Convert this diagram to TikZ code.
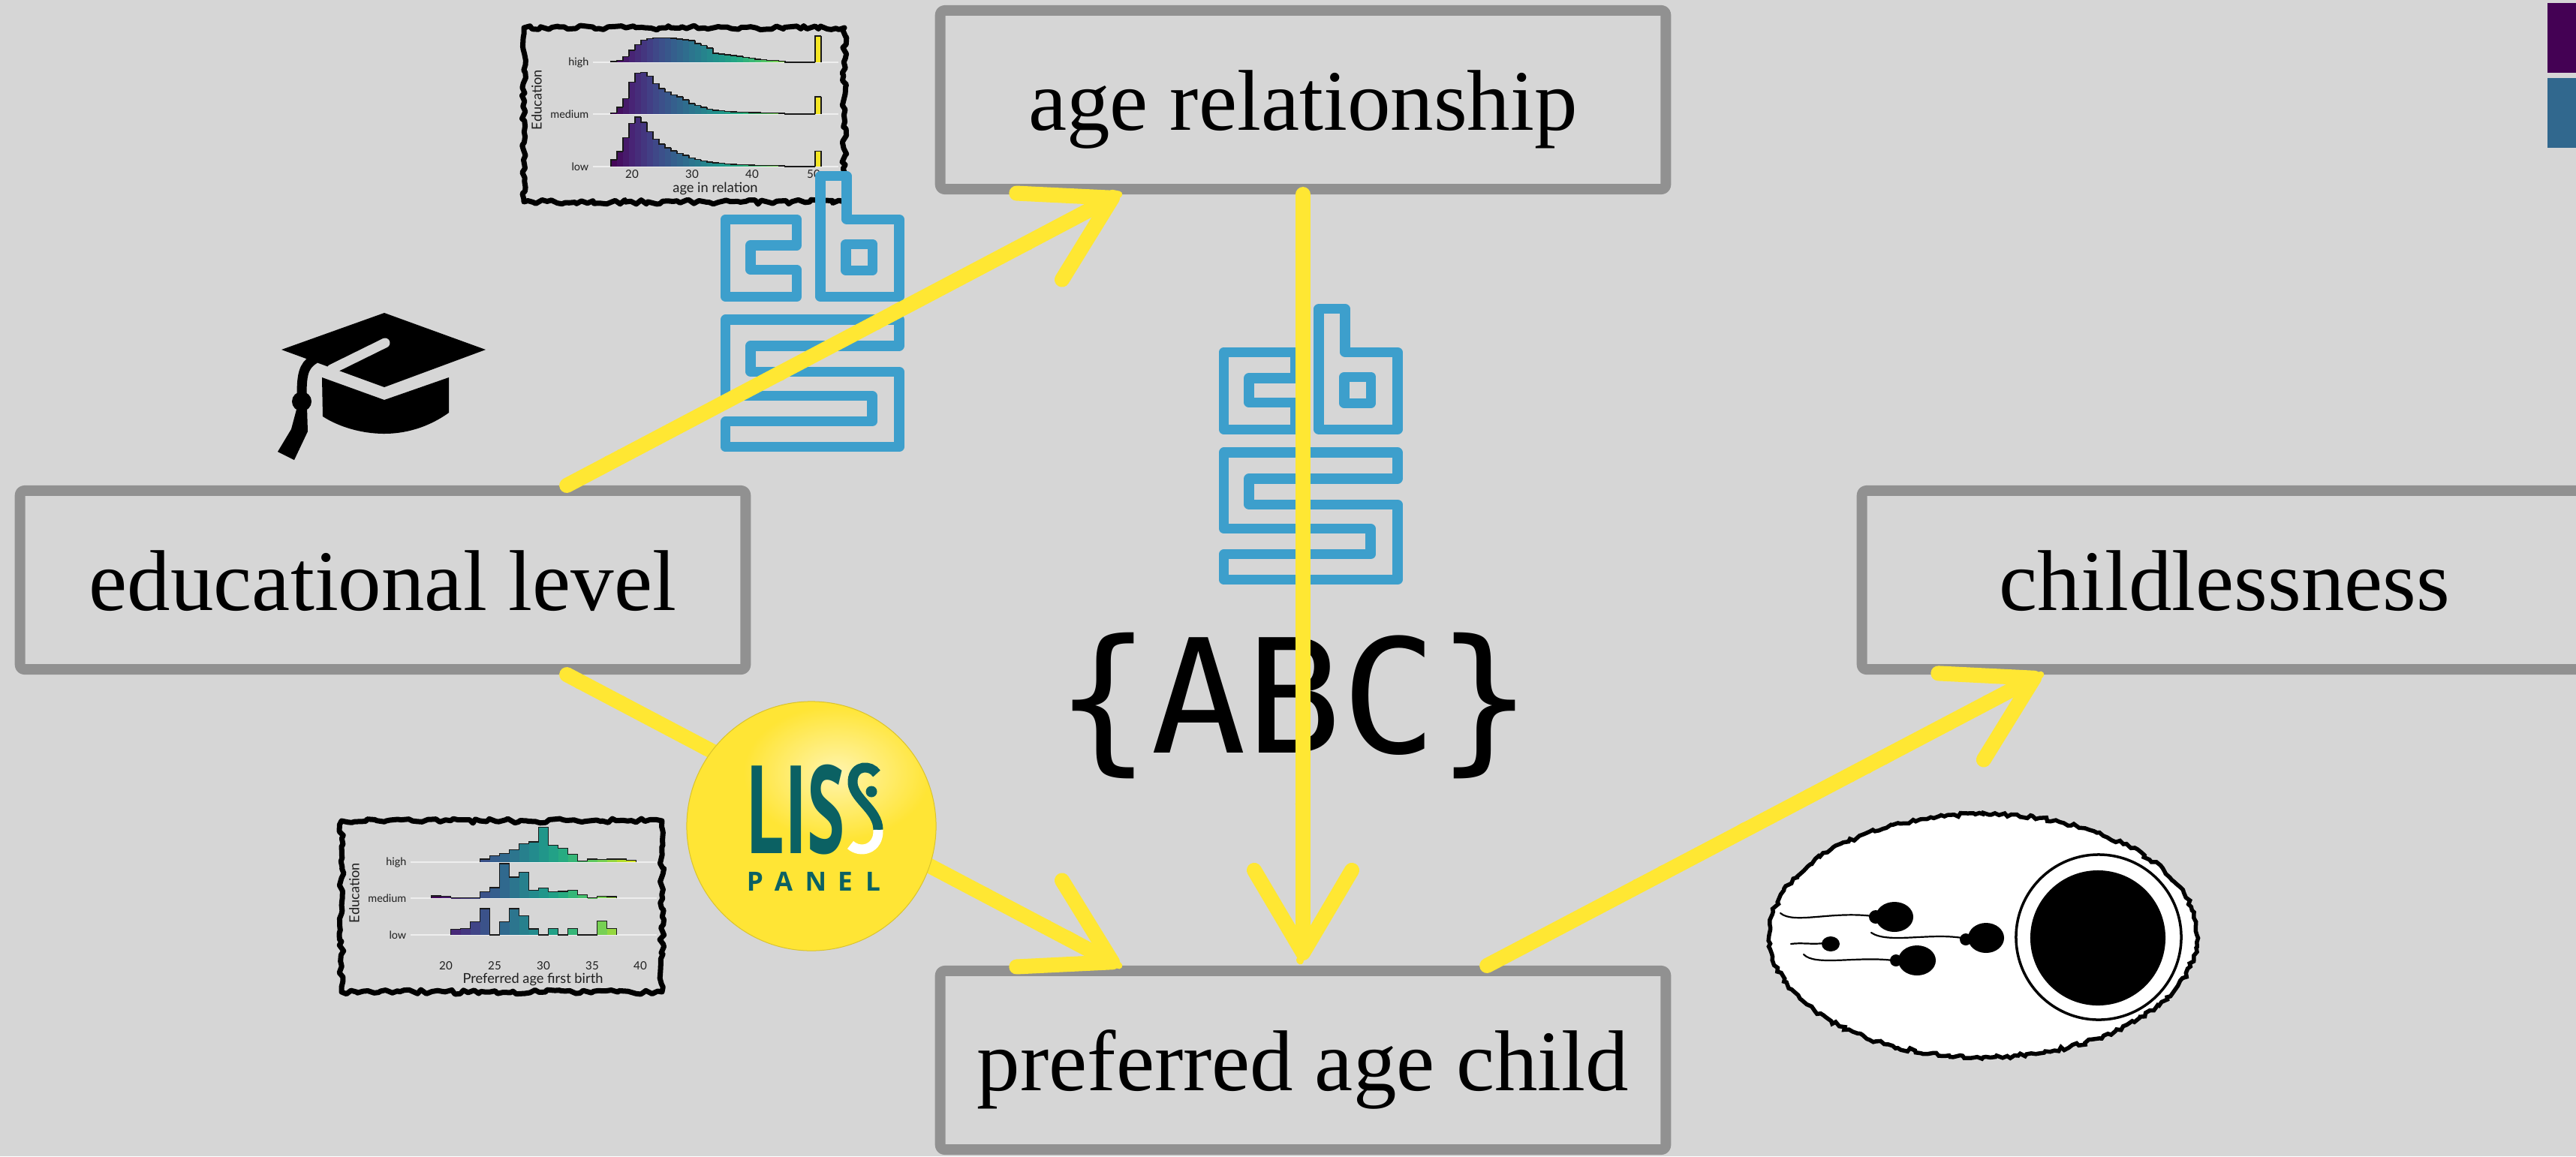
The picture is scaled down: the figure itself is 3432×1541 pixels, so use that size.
\documentclass[tikz,border=0pt]{standalone}
\usepackage{fontspec}
\usepackage{graphicx}
\setmainfont{Liberation Serif}
\newfontfamily\plotfont{Lato}
\newfontfamily\codefont{DejaVu Sans Mono}
\newfontfamily\lissfont{Open Sans}
\usetikzlibrary{arrows.meta,calc,decorations.pathmorphing}

\definecolor{bg}{HTML}{D6D6D6}
\definecolor{boxgray}{HTML}{919191}
\definecolor{chalkyellow}{HTML}{FFE733}
\definecolor{cbsblue}{HTML}{3D9FCC}
\definecolor{lissyellow}{HTML}{FFE535}
\definecolor{lissteal}{HTML}{0B6163}
\definecolor{plottext}{HTML}{1F1F1F}
\definecolor{gridline}{HTML}{EEEEEE}
\definecolor{legpurple}{HTML}{440154}
\definecolor{legteal}{HTML}{31688E}
% viridis stops
\definecolor{vir0}{HTML}{440154}
\definecolor{vir1}{HTML}{482475}
\definecolor{vir2}{HTML}{414487}
\definecolor{vir3}{HTML}{355F8D}
\definecolor{vir4}{HTML}{2A788E}
\definecolor{vir5}{HTML}{21918C}
\definecolor{vir6}{HTML}{22A884}
\definecolor{vir7}{HTML}{44BF70}
\definecolor{vir8}{HTML}{7AD151}
\definecolor{vir9}{HTML}{BDDF26}
\definecolor{vir10}{HTML}{FDE725}

% sets colour vc to viridis(t), t in [0,1]
\newcommand\setvir[1]{%
  \pgfmathsetmacro\vt{max(0,min(0.999,#1))}%
  \pgfmathtruncatemacro\vi{floor(\vt*10)}%
  \pgfmathtruncatemacro\vj{\vi+1}%
  \pgfmathtruncatemacro\vp{round((\vt*10-\vi)*100)}%
  \colorlet{vc}{vir\vj!\vp!vir\vi}}

% one histogram row: #1 baseline y, #2 left edge x, #3 bin width,
% #4 colour t of first bin, #5 t step, #6 last index, #7 bar heights
\newcommand\ridgerow[7]{%
  \foreach \h [count=\i from 0, remember=\h as \hp (initially 0)] in {#7}{%
    \pgfmathsetmacro\xl{#2+\i*#3}%
    \pgfmathsetmacro\xr{#2+(\i+1)*#3}%
    \setvir{#4+\i*#5}%
    \fill[vc] (\xl,#1) rectangle (\xr,{#1-\h/3});
    \draw[barline] (\xl,{#1-\hp/3}) -- (\xl,{#1-\h/3}) -- (\xr,{#1-\h/3});
    \ifnum\i=#6\relax \draw[barline] (\xr,{#1-\h/3}) -- (\xr,#1);\fi
  }}

\tikzset{
  cbslogo/.pic={
    \begin{scope}[x=0.003333cm, y=-0.003333cm, draw=cbsblue, line width=0.133cm, line join=round]
      \draw (20,193) -- (305,193) -- (305,297) -- (120,297) -- (120,395)
            -- (305,395) -- (305,503) -- (20,503) -- cycle;
      \draw (400,20) -- (505,20) -- (505,193) -- (715,193) -- (715,503) -- (400,503) -- cycle;
      \draw (502,292) rectangle (608,398);
      \draw (20,595) -- (715,595) -- (715,700) -- (120,700) -- (120,803) -- (715,803)
            -- (715,1105) -- (20,1105) -- (20,1003) -- (607,1003) -- (607,900) -- (20,900) -- cycle;
    \end{scope}
  }
}

\begin{document}
\begin{tikzpicture}[x=0.01cm, y=-0.01cm,
  box/.style={draw=boxgray, line width=0.14cm, minimum width=9.66cm, minimum height=2.38cm,
    inner sep=0pt, text height=0.805cm, text depth=0pt,
    font=\fontsize{32.7pt}{40pt}\selectfont,
    rounded corners=0.06cm, line join=round},
  chalk/.style={draw=chalkyellow, line width=0.2cm, line cap=round, line join=round,
    -{Straight Barb[length=1.1cm, width=1.3cm, round]},
    postaction={draw=chalkyellow, -, line width=0.09cm,
      decorate, decoration={random steps, segment length=0.1cm, amplitude=0.06cm}}},
  chalkframe/.style={draw=black, line width=0.07cm, line join=round,
    decorate, decoration={random steps, segment length=0.06cm, amplitude=0.03cm}},
  barline/.style={draw=black!90, line width=0.3pt},
  grid/.style={draw=gridline, line width=0.012cm},
  rowlab/.style={font=\plotfont\fontsize{4.1pt}{5pt}\selectfont, text=plottext, anchor=east, inner sep=0pt},
  ticklab/.style={font=\plotfont\fontsize{4.3pt}{5pt}\selectfont, text=plottext, inner sep=0pt},
  axlab/.style={font=\plotfont\fontsize{5.2pt}{6pt}\selectfont, text=plottext, inner sep=0pt},
  lisstext/.style={font=\lissfont\bfseries\fontsize{46.5pt}{50pt}\selectfont, text=lissteal, inner sep=0pt},
  panel/.style={font=\lissfont\bfseries\fontsize{10pt}{12pt}\selectfont, text=lissteal, inner sep=0pt, anchor=base}
]
\pgfmathsetseed{11}
\fill[bg] (0,0) rectangle (3432,1541);
\useasboundingbox (0,0) rectangle (3432,1541);

% legend swatches at the right edge
\fill[legpurple] (3394,4) rectangle (3440,97);
\fill[legteal] (3394,104) rectangle (3440,197);

% ---------- histogram: age in relation ----------
\draw[chalkframe] (698,37) rectangle (1125,269);
\foreach \yy in {83,152,222} \draw[grid] (790,\yy) -- (1117,\yy);
\ridgerow{83}{814}{8}{0.0143}{0.02857}{34}{3,7,23,48,70,88,95,97,98,98,96,93,90,87,75,67,57,36,33,30,27,24,20,17,12,10,8,7,5,0,0,0,0,0,105}
\ridgerow{152}{814}{8}{0.0143}{0.02857}{34}{5,27,62,127,164,167,152,122,102,89,77,69,57,42,34,27,19,15,13,11,9,8,7,6,6,5,5,4,3,0,0,0,0,0,69}
\ridgerow{222}{814}{8}{0.0143}{0.02857}{34}{27,60,115,173,198,177,140,110,90,75,63,53,45,35,28,23,18,15,13,11,9,8,7,6,5,5,4,4,3,0,0,0,0,0,62}
\node[rowlab] (ta) at (785,83) {high};
\node[rowlab] (tb) at (785,152) {medium};
\node[rowlab] (tc) at (785,222) {low};
\node[axlab, rotate=90] (td) at (715,133) {Education};
\node[ticklab] (t20) at (842,232) {20};
\node[ticklab] (t30) at (922,232) {30};
\node[ticklab] (t40) at (1002,232) {40};
\node[ticklab] (t50) at (1084,232) {50};
\node[axlab] (te) at (953,251) {age in relation};

% ---------- histogram: preferred age first birth ----------
\draw[chalkframe] (455,1094) rectangle (882,1322);
\foreach \yy in {1149,1197,1246} \draw[grid] (547,\yy) -- (875,\yy);
\ridgerow{1149}{639.5}{13}{0.25}{0.04545}{15}{12,25,35,50,74,81,139,67,55,32,5,12,10,12,12,7}
\ridgerow{1197}{574.5}{13}{0.0227}{0.04545}{18}{9,7,1.5,1.5,1.5,26,42,138,84,104,32,40,26,27,32,14,1.5,7,6}
\ridgerow{1246}{600.5}{13}{0.1136}{0.04545}{16}{22,26,53,105,0,53,105,76,24,0,26,0,26,0,0,55,26}
\node[rowlab] (ba) at (542,1149) {high};
\node[rowlab] (bb) at (542,1197) {medium};
\node[rowlab] (bc) at (542,1246) {low};
\node[axlab, rotate=90] (bd) at (472,1190) {Education};
\node[ticklab] (b20) at (594,1287) {20};
\node[ticklab] (b25) at (659,1287) {25};
\node[ticklab] (b30) at (724,1287) {30};
\node[ticklab] (b35) at (789,1287) {35};
\node[ticklab] (b40) at (853,1287) {40};
\node[axlab] (be) at (710,1305) {Preferred age first birth};

% ---------- graduation cap ----------
\fill[black] (375,466) -- (512,417) -- (647,466) -- (512,516) -- cycle;
\draw[bg, line width=0.13cm, line cap=round] (513,457) -- (442,492);
\fill[black] (429,503) -- (512,533) -- (598,503) -- (598,550)
  .. controls (570,570) and (540,578) .. (512,578)
  .. controls (480,578) and (450,568) .. (430,555) -- cycle;
\draw[black, line width=0.13cm, line cap=round] (418,479) .. controls (404,488) and (402,500) .. (402,528);
\fill[black] (402,535) circle[radius=0.13cm];
\fill[black] (396,542) -- (409,542) -- (410,575) -- (392,613) -- (370,602) -- (388,572) -- cycle;

% ---------- sperm and egg ----------
\filldraw[fill=white, draw=black, line width=0.055cm,
  decorate, decoration={random steps, segment length=0.05cm, amplitude=0.025cm}]
  (2642,1247) ellipse[x radius=2.85cm, y radius=1.62cm];
\draw[black, line width=0.035cm] (2796,1249) circle[radius=1.1cm];
\fill[black] (2795,1250) circle[radius=0.9cm];
\begin{scope}[black, line width=0.022cm, line cap=round]
  \draw (2372,1217) .. controls (2390,1232) and (2440,1214) .. (2495,1221);
  \fill (2524,1222) ellipse[x radius=0.25cm, y radius=0.2cm];
  \fill (2499,1222) circle[radius=0.09cm];
  \draw (2493,1243) .. controls (2515,1258) and (2570,1243) .. (2614,1250);
  \fill (2646,1250) ellipse[x radius=0.24cm, y radius=0.2cm];
  \fill (2619,1252) circle[radius=0.08cm];
  \draw (2403,1272) .. controls (2418,1288) and (2474,1274) .. (2522,1280);
  \fill (2554,1280) ellipse[x radius=0.25cm, y radius=0.2cm];
  \fill (2526,1280) circle[radius=0.08cm];
  \draw (2386,1258) .. controls (2400,1256) and (2415,1259) .. (2430,1257);
  \fill (2439,1258) ellipse[x radius=0.12cm, y radius=0.1cm];
\end{scope}

% ---------- cbs logos ----------
\pic (cbsA) at (960,228) {cbslogo};
\pic (cbsB) at (1624,405) {cbslogo};

% ---------- {ABC} ----------
\node[font={\codefont\fontsize{60pt}{72pt}\selectfont}, anchor=base, inner sep=0pt] (abc) at (1724,1003) {\{ABC\}};

% ---------- concept boxes ----------
\node[box] (agerel) at (1736,133) {age relationship};
\node[box] (edu) at (510,773) {educational level};
\node[box] (child) at (2964,773) {childlessness};
\node[box] (pref) at (1736,1413) {preferred age child};

% ---------- paths between concepts ----------
\draw[chalk] ($(edu.north)!0.5!(edu.north east)$) -- ($(agerel.south)!0.5!(agerel.south west)$);
\draw[chalk] ($(edu.south)!0.5!(edu.south east)$) -- ($(pref.north)!0.5!(pref.north west)$);
\draw[chalk, shorten >=0.07cm] (agerel.south) -- (pref.north);
\draw[chalk] ($(pref.north)!0.5!(pref.north east)$) -- ($(child.south)!0.5!(child.south west)$);

% ---------- LISS panel badge ----------
\fill[lissyellow] (1081,1101) circle[radius=1.66cm];
\begin{scope}
  \clip (1081,1101) circle[radius=1.66cm];
  \shade[inner color=white, outer color=lissyellow, opacity=0.6] (1115,1030) ellipse[x radius=1.25cm, y radius=0.9cm];
\end{scope}
\draw[lissyellow!85!black, line width=0.01cm] (1081,1101) circle[radius=1.66cm];
\node[lisstext, anchor=base west, xscale=0.56] (liss) at (993,1137) {LIS};
% stylised last letter: teal upper stroke with dot, white lower tail
\draw[lissteal, line width=0.13cm, line cap=butt]
  (1168,1031) .. controls (1160,1019) and (1138,1019) .. (1136,1040)
  .. controls (1134,1064) and (1170,1078) .. (1170,1106);
\draw[white, line width=0.13cm, line cap=butt]
  (1170,1106) .. controls (1171,1132) and (1146,1138) .. (1133,1126);
\fill[lissteal] (1161,1055) circle[radius=0.075cm];
\node[panel] (pP) at (1006,1187) {P};
\node[panel] (pA) at (1044,1187) {A};
\node[panel] (pN) at (1087,1187) {N};
\node[panel] (pE) at (1126,1187) {E};
\node[panel] (pL) at (1163,1187) {L};
\end{tikzpicture}
\end{document}
